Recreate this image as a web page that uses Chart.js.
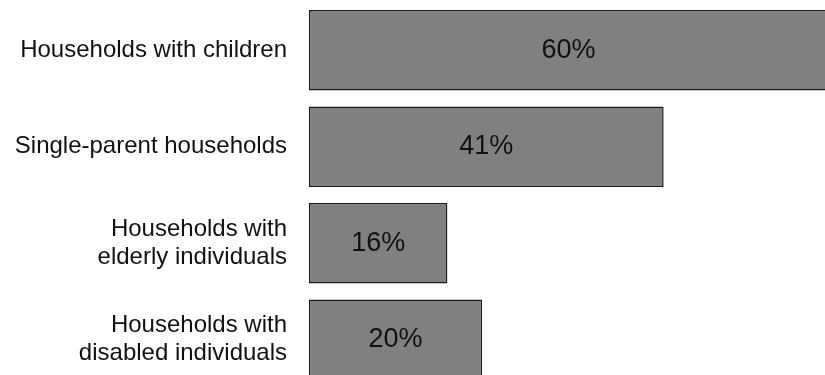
<!DOCTYPE html>
<html>
<head>
<meta charset="utf-8">
<script src="https://cdn.jsdelivr.net/npm/chart.js@4"></script>
<style>
  html, body { margin: 0; padding: 0; background: #fff; overflow: hidden; }
  #wrap { position: absolute; left: 0; top: 0; width: 828px; height: 388px; }
</style>
</head>
<body>
<div id="wrap"><canvas id="chart"></canvas></div>
<script>
// categories (multi-line where the reference wraps)
const categories = [
  ['Households with children'],
  ['Single-parent households'],
  ['Households with', 'elderly individuals'],
  ['Households with', 'disabled individuals']
];
const shares = [60, 41, 16, 20];
const valueLabels = ['60%', '41%', '16%', '20%'];

// write the value in the middle of each bar
const barText = {
  id: 'barText',
  afterDatasetsDraw(chart) {
    const ctx = chart.ctx;
    const meta = chart.getDatasetMeta(0);
    ctx.save();
    ctx.font = '27px "Liberation Sans", Arial, sans-serif';
    ctx.fillStyle = '#111';
    ctx.textAlign = 'center';
    ctx.textBaseline = 'middle';
    meta.data.forEach((bar, i) => {
      const cx = (bar.x + bar.base) / 2;
      ctx.fillText(valueLabels[i], cx, bar.y);
    });
    ctx.restore();
  }
};

new Chart('chart', {
  type: 'bar',
  data: {
    labels: categories,
    datasets: [{
      data: shares,
      backgroundColor: '#808080',
      borderColor: '#1a1a1a',
      borderWidth: 1.5,
      borderSkipped: false,
      barPercentage: 0.833,
      categoryPercentage: 1
    }]
  },
  options: {
    indexAxis: 'y',
    responsive: true,
    maintainAspectRatio: false,
    animation: false,
    layout: { padding: { top: 2, bottom: 0, left: 0, right: 0 } },
    plugins: {
      legend: { display: false },
      tooltip: { enabled: false }
    },
    scales: {
      x: {
        display: false,
        min: 0,
        max: 60
      },
      y: {
        afterFit(scale) {
          scale.width = 309;
          scale.paddingTop = 0;
          scale.paddingBottom = 0;
        },
        grid: { display: false, drawTicks: false },
        border: { display: false },
        ticks: {
          padding: 22,
          color: '#111',
          font: { family: '"Liberation Sans", Arial, sans-serif', size: 24, lineHeight: 1.17 }
        }
      }
    }
  },
  plugins: [barText]
});
</script>
</body>
</html>
